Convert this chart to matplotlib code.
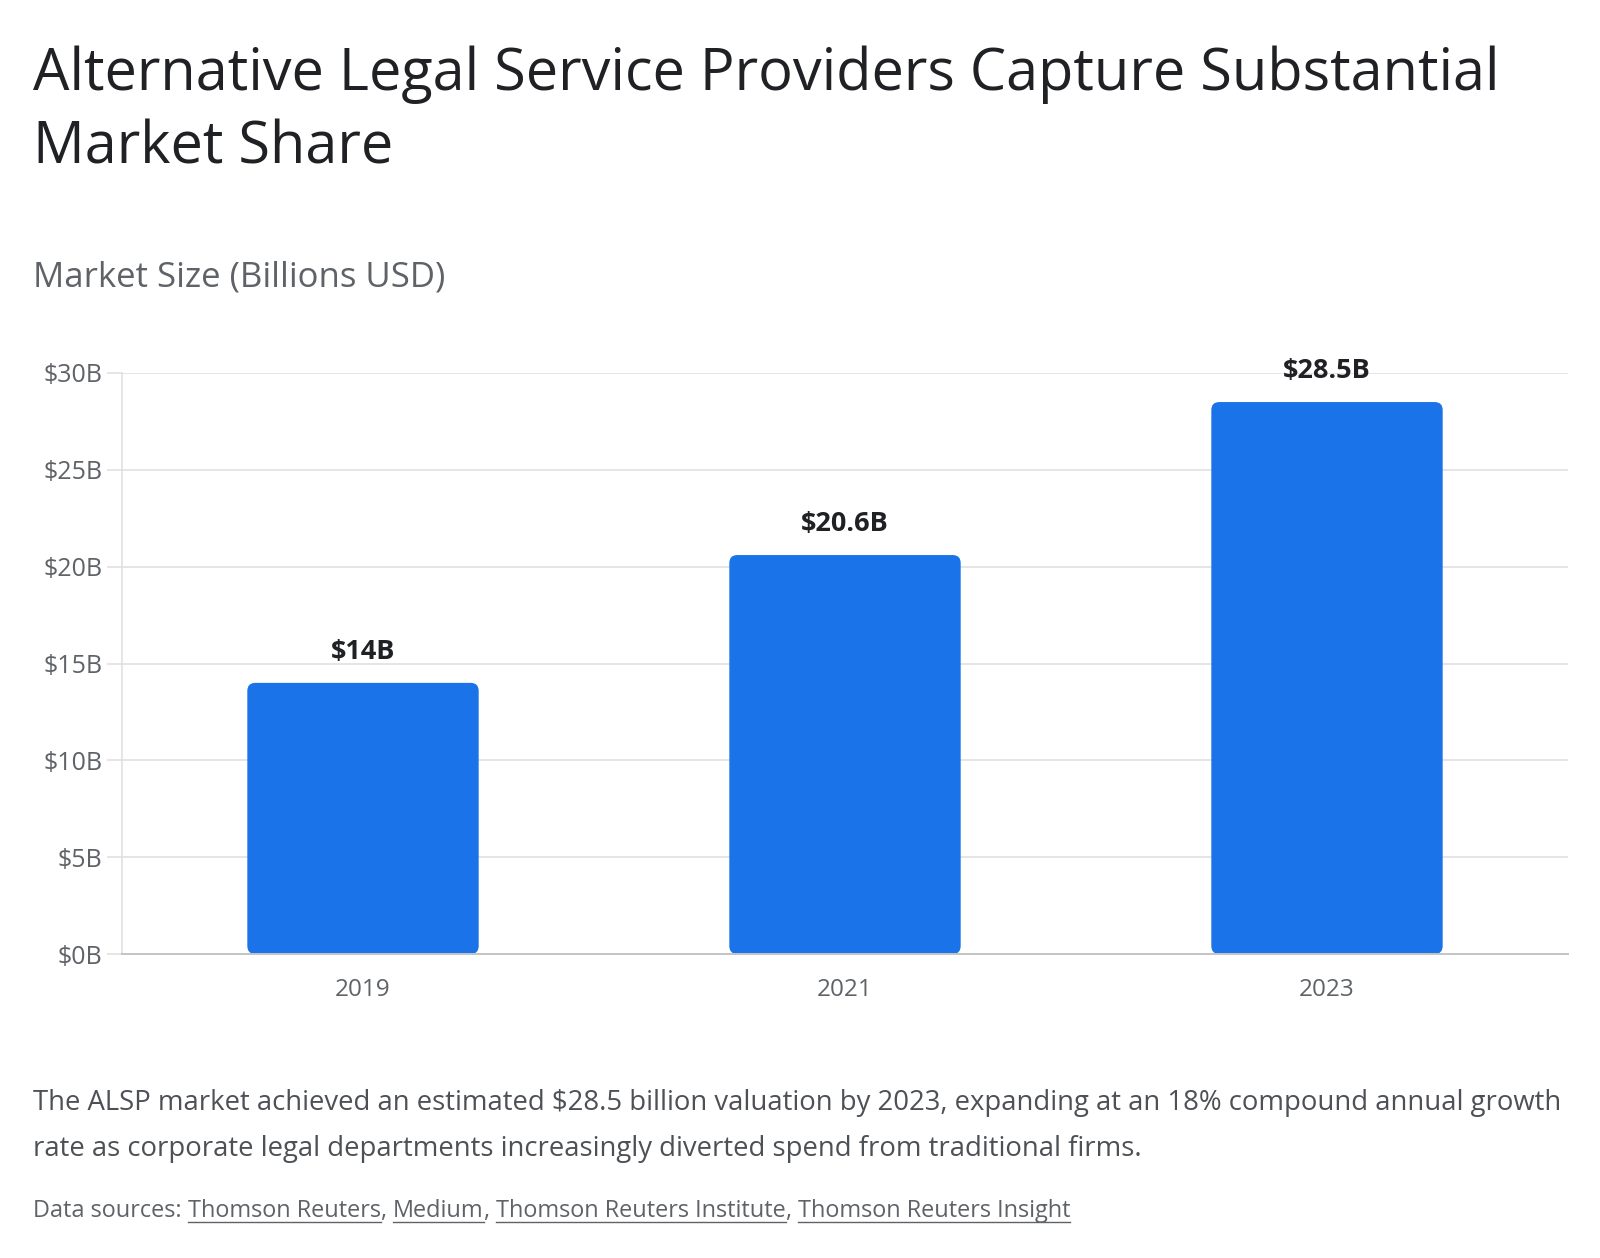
import matplotlib.pyplot as plt
from matplotlib.patches import FancyBboxPatch

# Data
years = ["2019", "2021", "2023"]
market_size = [14.0, 20.6, 28.5]
bar_labels = ["$14B", "$20.6B", "$28.5B"]
y_ticks = [0, 5, 10, 15, 20, 25, 30]
y_tick_labels = ["$0B", "$5B", "$10B", "$15B", "$20B", "$25B", "$30B"]
sources = ["Thomson Reuters", "Medium", "Thomson Reuters Institute", "Thomson Reuters Insight"]

plt.rcParams["font.family"] = ["Open Sans", "DejaVu Sans"]

W, H = 1600, 1258
fig = plt.figure(figsize=(W / 100, H / 100), dpi=100)
ax = fig.add_axes([122 / W, 1 - 954 / H, (1568 - 122) / W, (954 - 373) / H])

blue = "#1a73e8"
grey = "#5f6368"
dark = "#202124"

x = list(range(len(years)))
bars = ax.bar(x, market_size, width=0.48, color=blue, zorder=3)

ax.set_xlim(-0.5, len(years) - 0.5)
ax.set_ylim(0, 30)

# swap the plain bars for rounded ones
ax_w_px = 1568 - 122
ax_h_px = 954 - 373
aspect = (30 / ax_h_px) / (len(years) / ax_w_px)
r = 8 / (ax_w_px / len(years))
for b in bars:
    b.set_visible(False)
    patch = FancyBboxPatch((b.get_x(), 0), b.get_width(), b.get_height(),
                           boxstyle=f"round,pad=0,rounding_size={r}",
                           mutation_aspect=aspect, facecolor=blue,
                           edgecolor="none", zorder=3)
    ax.add_patch(patch)

for xi, v, lab in zip(x, market_size, bar_labels):
    ax.annotate(lab, (xi, v), xytext=(0, 13), textcoords="offset points",
                ha="center", va="bottom", fontsize=19.5, fontweight="bold", color=dark)

ax.set_yticks(y_ticks)
ax.set_yticklabels(y_tick_labels)
ax.set_xticks(x)
ax.set_xticklabels(years)
ax.tick_params(axis="y", length=11, width=1.2, color="#e0e0e0", pad=3,
               labelsize=18, labelcolor=grey)
ax.tick_params(axis="x", length=0, pad=17, labelsize=17.5, labelcolor=grey)

ax.grid(axis="y", color="#e0e0e0", linewidth=1.2, zorder=0)
for s in ["top", "right"]:
    ax.spines[s].set_visible(False)
ax.spines["left"].set_color("#e0e0e0")
ax.spines["left"].set_linewidth(1.2)
ax.spines["bottom"].set_color("#c4c4c4")
ax.spines["bottom"].set_linewidth(1.4)
ax.spines["bottom"].set_zorder(4)

# Titles
fig.text(33 / W, 1 - 90 / H, "Alternative Legal Service Providers Capture Substantial",
         fontsize=41.5, color=dark, va="baseline", ha="left")
fig.text(33 / W, 1 - 163 / H, "Market Share",
         fontsize=41.5, color=dark, va="baseline", ha="left")
fig.text(33 / W, 1 - 287 / H, "Market Size (Billions USD)",
         fontsize=25, color=grey, va="baseline", ha="left")

# Caption
fig.text(33 / W, 1 - 1110 / H,
         "The ALSP market achieved an estimated $28.5 billion valuation by 2023, expanding at an 18% compound annual growth",
         fontsize=19.8, color="#4d5156", va="baseline", ha="left")
fig.text(33 / W, 1 - 1156 / H,
         "rate as corporate legal departments increasingly diverted spend from traditional firms.",
         fontsize=19.8, color="#4d5156", va="baseline", ha="left")

# Sources line with underlined links
fig.canvas.draw()
renderer = fig.canvas.get_renderer()
y_src = 1 - 1217 / H
t = fig.text(33 / W, y_src, "Data sources: ", fontsize=16.9, color=grey, va="baseline", ha="left")
x_px = t.get_window_extent(renderer).x1
for i, src in enumerate(sources):
    st = fig.text(x_px / W, y_src, src, fontsize=16.9, color=grey, va="baseline", ha="left")
    bb = st.get_window_extent(renderer)
    fig.add_artist(plt.Line2D([bb.x0 / W, bb.x1 / W], [y_src - 5 / H, y_src - 5 / H],
                              color=grey, linewidth=1))
    x_px = bb.x1
    if i < len(sources) - 1:
        ct = fig.text(x_px / W, y_src, ", ", fontsize=16.9, color=grey, va="baseline", ha="left")
        x_px = ct.get_window_extent(renderer).x1

fig.savefig("out.png", dpi=100)
